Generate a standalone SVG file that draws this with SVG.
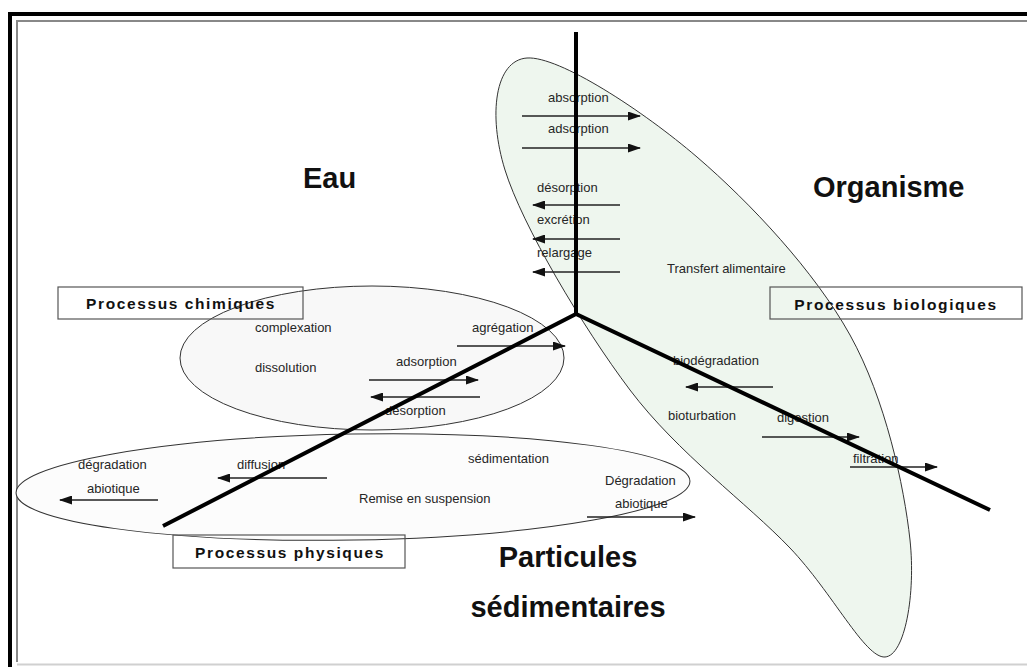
<svg xmlns="http://www.w3.org/2000/svg" width="1027" height="667" viewBox="0 0 1027 667">
<style>
.lbl{font-family:"Liberation Sans",Arial,sans-serif;font-size:13px;fill:#262626}
.big{font-family:"Liberation Sans",Arial,sans-serif;font-size:29px;font-weight:bold;fill:#111}
.box{fill:none;stroke:#555;stroke-width:1.2}
.boxt{font-family:"Liberation Sans",Arial,sans-serif;font-size:15.5px;font-weight:bold;fill:#111;text-anchor:middle;letter-spacing:1.6px}
.arr{stroke:#222;stroke-width:1.4;fill:none;marker-end:url(#ah)}
.axis{stroke:#000;stroke-width:4;fill:none;stroke-linecap:butt;stroke-linejoin:miter}
.ell{stroke:#333;stroke-width:1}
</style>
<defs>
<marker id="ah" viewBox="0 0 13 9" refX="12" refY="4.5" markerWidth="13" markerHeight="9" markerUnits="userSpaceOnUse" orient="auto">
<path d="M0,0 L13,4.5 L0,9 z" fill="#111"/>
</marker>
</defs>
<rect width="1027" height="667" fill="#fff"/>
<path d="M10,667 V14 H1027" stroke="#000" stroke-width="4" fill="none"/>
<path d="M17,662 V21 H1027" stroke="#888" stroke-width="2" fill="none"/>
<path d="M17,664.5 H1027" stroke="#d0d0d0" stroke-width="2" fill="none"/>

<g id="zone-physique"><ellipse class="ell" cx="353" cy="487" rx="337" ry="53" transform="rotate(-1 353 487)" fill="#fcfcfc"/></g>
<g id="zone-chimique"><ellipse class="ell" cx="372" cy="358" rx="192" ry="72" fill="#f8f8f8"/></g>
<g id="zone-biologique"><path class="ell" fill="#eef6ee" d="M527,58 C559,55.8 643.2,110.8 697,157 C750.8,203.2 814.5,271.2 850,335 C885.5,398.8 904.2,486.3 910,540 C915.8,593.7 905,655.7 885,657 C865,658.3 832.5,592.5 790,548 C747.5,503.5 677.5,453 630,390 C582.5,327 522.2,225.3 505,170 C487.8,114.7 495,60.2 527,58 Z"/></g>

<g id="labels">
<text class="lbl" x="548" y="102">absorption</text>
<text class="lbl" x="548" y="133">adsorption</text>
<text class="lbl" x="537" y="192">désorption</text>
<text class="lbl" x="537" y="224">excrétion</text>
<text class="lbl" x="537" y="257">relargage</text>
<text class="lbl" x="667" y="273">Transfert alimentaire</text>
<text class="lbl" x="255" y="332">complexation</text>
<text class="lbl" x="255" y="372">dissolution</text>
<text class="lbl" x="472" y="332">agrégation</text>
<text class="lbl" x="396" y="366">adsorption</text>
<text class="lbl" x="385" y="415">désorption</text>
<text class="lbl" x="78" y="469">dégradation</text>
<text class="lbl" x="87" y="493">abiotique</text>
<text class="lbl" x="237" y="469">diffusion</text>
<text class="lbl" x="468" y="463">sédimentation</text>
<text class="lbl" x="359" y="503">Remise en suspension</text>
<text class="lbl" x="605" y="485">Dégradation</text>
<text class="lbl" x="615" y="508">abiotique</text>
<text class="lbl" x="673" y="365">biodégradation</text>
<text class="lbl" x="668" y="420">bioturbation</text>
<text class="lbl" x="777" y="422">digestion</text>
<text class="lbl" x="853" y="463">filtration</text>
</g>

<g id="connectors">
<line class="arr" x1="522" y1="116" x2="640" y2="116"/>
<line class="arr" x1="522" y1="148" x2="640" y2="148"/>
<line class="arr" x1="620" y1="205" x2="533" y2="205"/>
<line class="arr" x1="620" y1="239" x2="533" y2="239"/>
<line class="arr" x1="620" y1="272" x2="533" y2="272"/>
<line class="arr" x1="457" y1="346" x2="565" y2="346"/>
<line class="arr" x1="369" y1="380" x2="478" y2="380"/>
<line class="arr" x1="480" y1="397" x2="371" y2="397"/>
<line class="arr" x1="327" y1="478" x2="218" y2="478"/>
<line class="arr" x1="158" y1="500" x2="60" y2="500"/>
<line class="arr" x1="587" y1="517" x2="695" y2="517"/>
<line class="arr" x1="773" y1="387" x2="686" y2="387"/>
<line class="arr" x1="762" y1="437" x2="859" y2="437"/>
<line class="arr" x1="850" y1="467" x2="937" y2="467"/>
<g id="axes">
<line class="axis" x1="576" y1="32" x2="576" y2="314"/>
<polyline class="axis" points="163,526 576,314 990,510"/>
</g>
</g>

<g id="node-eau"><text class="big" x="303" y="188">Eau</text></g>
<g id="node-organisme"><text class="big" x="813" y="197">Organisme</text></g>
<g id="node-particules"><text class="big" x="568" y="567" text-anchor="middle">Particules</text><text class="big" x="568" y="617" text-anchor="middle">sédimentaires</text></g>

<g id="node-chimiques"><rect class="box" x="58" y="287" width="245" height="32"/><text class="boxt" x="181" y="309">Processus chimiques</text></g>
<g id="node-biologiques"><rect class="box" x="770" y="287" width="252" height="32"/><text class="boxt" x="896" y="310">Processus biologiques</text></g>
<g id="node-physiques"><rect class="box" x="173" y="535" width="232" height="33"/><text class="boxt" x="290" y="558">Processus physiques</text></g>
</svg>
